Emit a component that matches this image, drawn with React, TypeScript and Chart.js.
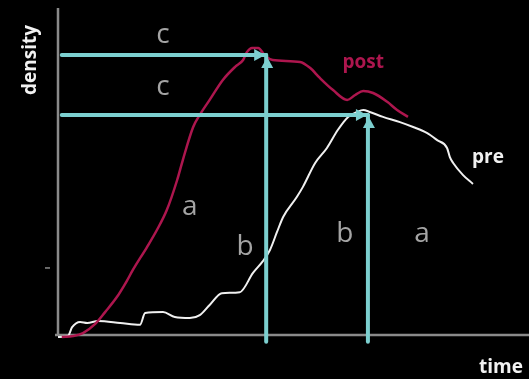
import React, { useEffect, useRef } from "react";
import { Chart, registerables } from "chart.js";

Chart.register(...registerables);

// "post" curve (time, density) in axis units 0..100
const postTime = [0.8, 3.2, 5.3, 7.9, 10.0, 12.5, 14.6, 15.9, 18.9, 21.0, 23.1, 25.3, 26.5, 28.7, 30.1, 32.2, 35.0, 37.6, 39.3, 40.1, 41.2, 42.5, 44.0, 45.6, 51.4, 53.5, 55.6, 58.4, 61.4, 63.1, 64.8, 66.9, 69.9, 72.0, 74.3];
const postDensity = [-0.6, -0.3, 0.6, 3.4, 7.0, 11.6, 16.5, 19.9, 26.9, 32.1, 38.2, 47.4, 53.5, 63.6, 67.3, 71.9, 78.0, 82.0, 84.1, 86.5, 87.8, 87.8, 85.3, 84.1, 83.5, 81.7, 78.6, 74.9, 71.9, 73.4, 74.6, 74.0, 71.3, 68.8, 66.7];

// "pre" curve
const preTime = [0, 2.1, 3.0, 4.7, 6.2, 8.5, 13.2, 17.4, 18.5, 22.3, 24.8, 28.0, 30.1, 32.2, 34.8, 38.6, 41.4, 43.5, 45.0, 46.5, 47.8, 50.7, 52.0, 54.6, 57.1, 59.4, 61.6, 63.5, 64.8, 66.2, 69.0, 72.6, 75.4, 78.3, 80.5, 82.6, 83.2, 83.9, 86.0, 88.1];
const preDensity = [-0.6, -0.3, 2.4, 4.0, 3.7, 4.3, 3.7, 3.1, 6.7, 7.0, 5.5, 5.2, 6.1, 9.2, 12.8, 13.1, 19.0, 22.6, 26.0, 31.5, 36.1, 42.2, 45.3, 52.6, 57.2, 62.7, 66.7, 68.2, 68.8, 68.2, 66.7, 65.1, 63.6, 61.8, 59.6, 57.2, 54.4, 52.6, 48.9, 46.2];

// peak markers (post, pre)
const peakTime = [44.2, 65.8];
const peakDensity = [85.6, 67.3];
const guideStartTime = 0.8;
const guideBottomDensity = -2.1;
const axisTickDensity = [20.5];

// annotation letters: text, time, density (baseline)
const letterTexts = ["c", "c", "a", "b", "b", "a"];
const letterTime = [22.3, 22.3, 28.0, 39.7, 60.9, 77.3];
const letterDensity = [89.3, 73.4, 36.7, 24.5, 28.4, 28.4];

const seriesLabels = ["post", "pre"];
const seriesLabelTime = [64.8, 91.3];
const seriesLabelDensity = [81.7, 52.6];

const CYAN = "#7ccfcf";
const POST = "#ad164e";
const PRE = "#f0f0f0";
const AXIS = "#8a8a8a";
const FONT = "'Open Sans', 'DejaVu Sans', sans-serif";

const zip = (xs: number[], ys: number[]) => xs.map((x, i) => ({ x, y: ys[i] }));

export default function App() {
  const ref = useRef<HTMLCanvasElement | null>(null);

  useEffect(() => {
    document.body.style.margin = "0";
    document.body.style.background = "#000";
    const canvas = ref.current;
    if (!canvas) return;

    const guides: any[] = [];
    peakTime.forEach((t, i) => {
      guides.push({
        data: [{ x: guideStartTime, y: peakDensity[i] }, { x: t, y: peakDensity[i] }],
        borderColor: CYAN,
        borderWidth: 4,
        borderCapStyle: "round",
        pointRadius: 0,
        tension: 0,
      });
      guides.push({
        data: [{ x: t, y: guideBottomDensity }, { x: t, y: peakDensity[i] }],
        borderColor: CYAN,
        borderWidth: 4,
        borderCapStyle: "round",
        pointRadius: 0,
        tension: 0,
      });
    });

    const decor = {
      id: "decor",
      beforeDraw(chart: any) {
        const { ctx, width, height } = chart;
        ctx.save();
        ctx.fillStyle = "#000";
        ctx.fillRect(0, 0, width, height);
        ctx.restore();
      },
      beforeDatasetsDraw(chart: any) {
        const { ctx, chartArea, scales } = chart;
        const ys = scales.y;
        ctx.save();
        ctx.strokeStyle = AXIS;
        ctx.lineWidth = 2.5;
        ctx.beginPath();
        ctx.moveTo(chartArea.left, chartArea.top);
        ctx.lineTo(chartArea.left, chartArea.bottom + 1);
        ctx.moveTo(chartArea.left - 3, chartArea.bottom);
        ctx.lineTo(chartArea.right, chartArea.bottom);
        ctx.stroke();
        ctx.lineWidth = 1.5;
        axisTickDensity.forEach((d) => {
          const py = ys.getPixelForValue(d);
          ctx.beginPath();
          ctx.moveTo(chartArea.left - 13, py);
          ctx.lineTo(chartArea.left - 8, py);
          ctx.stroke();
        });
        ctx.restore();
      },
      afterDatasetsDraw(chart: any) {
        const { ctx, chartArea, scales } = chart;
        const xs = scales.x;
        const ys = scales.y;
        ctx.save();
        // arrowheads
        ctx.fillStyle = CYAN;
        peakTime.forEach((t, i) => {
          const X = xs.getPixelForValue(t);
          const Y = ys.getPixelForValue(peakDensity[i]);
          ctx.beginPath();
          ctx.moveTo(X - 1, Y);
          ctx.lineTo(X - 12, Y - 6);
          ctx.lineTo(X - 12, Y + 6);
          ctx.closePath();
          ctx.fill();
          ctx.beginPath();
          ctx.moveTo(X + 1, Y + 2);
          ctx.lineTo(X - 5, Y + 13);
          ctx.lineTo(X + 7, Y + 13);
          ctx.closePath();
          ctx.fill();
        });
        // letters
        ctx.fillStyle = "#a4a4a4";
        ctx.font = `400 28px ${FONT}`;
        ctx.textAlign = "center";
        ctx.textBaseline = "alphabetic";
        letterTexts.forEach((s, i) => {
          ctx.fillText(s, xs.getPixelForValue(letterTime[i]), ys.getPixelForValue(letterDensity[i]));
        });
        // series labels
        ctx.font = `700 19px ${FONT}`;
        seriesLabels.forEach((s, i) => {
          ctx.fillStyle = i === 0 ? POST : PRE;
          ctx.fillText(s, xs.getPixelForValue(seriesLabelTime[i]), ys.getPixelForValue(seriesLabelDensity[i]));
        });
        // axis titles
        ctx.fillStyle = "#f2f2f2";
        ctx.font = `700 19px ${FONT}`;
        ctx.textAlign = "right";
        ctx.fillText("time", chartArea.right - 6, chartArea.bottom + 38);
        ctx.save();
        ctx.translate(chartArea.left - 22, chartArea.top + 52);
        ctx.rotate(-Math.PI / 2);
        ctx.textAlign = "center";
        ctx.fillText("density", 0, 0);
        ctx.restore();
        ctx.restore();
      },
    };

    const chart = new Chart(canvas, {
      type: "line",
      data: {
        datasets: [
          ...guides,
          {
            label: "post",
            data: zip(postTime, postDensity),
            borderColor: POST,
            borderWidth: 2.5,
            pointRadius: 0,
            cubicInterpolationMode: "monotone",
          },
          {
            label: "pre",
            data: zip(preTime, preDensity),
            borderColor: PRE,
            borderWidth: 2,
            pointRadius: 0,
            cubicInterpolationMode: "monotone",
          },
        ],
      },
      options: {
        animation: false,
        responsive: false,
        maintainAspectRatio: false,
        layout: { padding: { left: 58, top: 8, right: 0, bottom: 44 } },
        plugins: { legend: { display: false }, tooltip: { enabled: false } },
        elements: { line: { fill: false } },
        scales: {
          x: { type: "linear", min: 0, max: 100, display: false },
          y: { type: "linear", min: 0, max: 100, display: false },
        },
        datasets: { line: { clip: false } as any },
      } as any,
      plugins: [decor],
    });
    return () => chart.destroy();
  }, []);

  return (
    <div style={{ position: "absolute", left: 0, top: 0, width: 529, height: 379, background: "#000" }}>
      <canvas ref={ref} width={529} height={379} style={{ display: "block" }} />
    </div>
  );
}
